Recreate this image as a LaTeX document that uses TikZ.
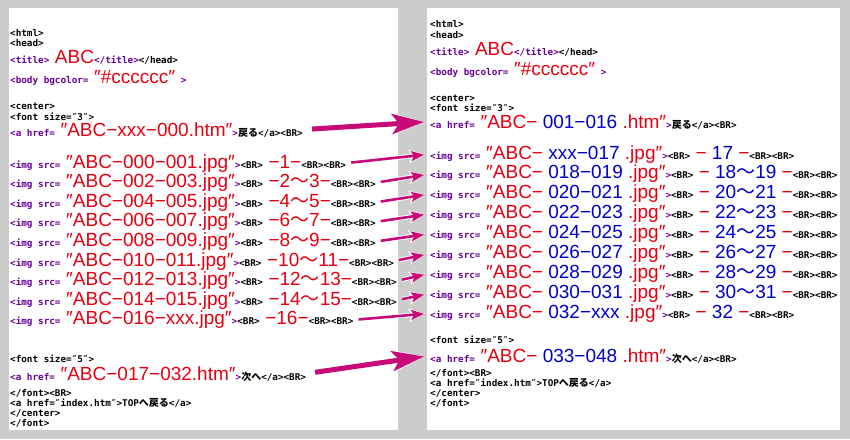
\documentclass[tikz,border=0pt]{standalone}
\usepackage{fontspec}
\usetikzlibrary{arrows.meta}
\setmainfont{Liberation Sans}
\newfontfamily\codefont{DejaVu Sans Mono}
\newfontfamily\bigfont{Liberation Sans}
\newfontfamily\jpfont{Noto Sans CJK JP}

\definecolor{tagpurple}{RGB}{102,0,153}
\definecolor{valred}{RGB}{230,0,18}
\definecolor{valblue}{RGB}{0,0,204}
\definecolor{arrowpink}{RGB}{200,10,120}
\definecolor{pagegray}{RGB}{204,204,204}

\newcommand{\tg}[1]{{\color{tagpurple}#1}}
\newcommand{\rd}[1]{{\bigfont\mdseries\fontsize{19}{19}\selectfont\color{valred}#1}}
\newcommand{\bl}[1]{{\bigfont\mdseries\fontsize{19}{19}\selectfont\color{valblue}#1}}
\newcommand{\jp}[1]{{\jpfont\bfseries\fontsize{10}{10}\selectfont #1}}
\newcommand{\wv}{{\jpfont 〜}}

\begin{document}
\begin{tikzpicture}[x=1pt, y=-1pt,
  code/.style={anchor=base west, inner sep=0pt, font=\codefont\bfseries\fontsize{9.3}{10}\selectfont},
  link/.style={arrowpink, line width=2.6pt, shorten <=5pt, shorten >=6pt,
    -{Stealth[length=13pt,width=10pt,inset=3pt]},
    preaction={draw=white, line width=4.4pt, -{Stealth[length=15pt,width=13pt,inset=3pt]}}},
  biglink/.style={arrowpink, line width=5pt, shorten <=9pt, shorten >=6pt,
    -{Stealth[length=32pt,width=20pt,inset=7pt]},
    preaction={draw=white, line width=7pt, -{Stealth[length=35pt,width=24pt,inset=7pt]}}}]
\useasboundingbox (0,0) rectangle (850,439);
\fill [pagegray] (0,0) rectangle (850,439);
\fill [white] (9,8) rectangle (398,430);
\fill [white] (427,8) rectangle (840,430);

% left page
\node [code] (lhtml) at (10,36.5) {<html>};
\node [code] (lhead) at (10,46.5) {<head>};
\node [code] (ltitle) at (10,63.5) {\tg{<title>} \rd{ABC}\tg{</title>}</head>};
\node [code] (lbody) at (10,83) {\tg{<body bgcolor=} \rd{″\#cccccc″} \tg{>}};
\node [code] (lcenter) at (10,109.5) {<center>};
\node [code] (lfont) at (10,120) {<font size=″3″>};
\node [code] (lback) at (10,136) {\tg{<a href=} \rd{″ABC−xxx−000.htm″}\tg{>}\jp{戻る}</a><BR>};
\node [code] (limg1) at (10,168) {\tg{<img src=} \rd{″ABC−000−001.jpg″}\tg{>}<BR> \rd{−1−}<BR><BR>};
\node [code] (limg2) at (10,187.6) {\tg{<img src=} \rd{″ABC−002−003.jpg″}\tg{>}<BR> \rd{−2\wv3−}<BR><BR>};
\node [code] (limg3) at (10,207.2) {\tg{<img src=} \rd{″ABC−004−005.jpg″}\tg{>}<BR> \rd{−4\wv5−}<BR><BR>};
\node [code] (limg4) at (10,226.8) {\tg{<img src=} \rd{″ABC−006−007.jpg″}\tg{>}<BR> \rd{−6\wv7−}<BR><BR>};
\node [code] (limg5) at (10,246.4) {\tg{<img src=} \rd{″ABC−008−009.jpg″}\tg{>}<BR> \rd{−8\wv9−}<BR><BR>};
\node [code] (limg6) at (10,266) {\tg{<img src=} \rd{″ABC−010−011.jpg″}\tg{>}<BR> \rd{−10\wv11−}<BR><BR>};
\node [code] (limg7) at (10,285.6) {\tg{<img src=} \rd{″ABC−012−013.jpg″}\tg{>}<BR> \rd{−12\wv13−}<BR><BR>};
\node [code] (limg8) at (10,305.2) {\tg{<img src=} \rd{″ABC−014−015.jpg″}\tg{>}<BR> \rd{−14\wv15−}<BR><BR>};
\node [code] (limg9) at (10,324.8) {\tg{<img src=} \rd{″ABC−016−xxx.jpg″}\tg{>}<BR> \rd{−16−}<BR><BR>};
\node [code] (lfontb) at (10,362) {<font size=″5″>};
\node [code] (lnext) at (10,380) {\tg{<a href=} \rd{″ABC−017−032.htm″}\tg{>}\jp{次へ}</a><BR>};
\node [code] (lfontend) at (10,396.5) {</font><BR>};
\node [code] (lindex) at (10,406) {<a href=″index.htm″>TOP\jp{へ戻る}</a>};
\node [code] (lcenterend) at (10,416.5) {</center>};
\node [code] (lclose) at (10,426) {</font>};

% right page
\node [code] (rhtml) at (430,27.5) {<html>};
\node [code] (rhead) at (430,38) {<head>};
\node [code] (rtitle) at (430,55) {\tg{<title>} \rd{ABC}\tg{</title>}</head>};
\node [code] (rbody) at (430,75) {\tg{<body bgcolor=} \rd{″\#cccccc″} \tg{>}};
\node [code] (rcenter) at (430,101) {<center>};
\node [code] (rfont) at (430,111) {<font size=″3″>};
\node [code] (rback) at (430,128) {\tg{<a href=} \rd{″ABC−\ }\bl{001−016}\rd{\ .htm″}\tg{>}\jp{戻る}</a><BR>};
\node [code] (rimg1) at (430,159) {\tg{<img src=} \rd{″ABC−\ }\bl{xxx−017}\rd{\ .jpg″}\tg{>}<BR>\rd{\ −\ }\bl{17}\rd{\ −}<BR><BR>};
\node [code] (rimg2) at (430,178.9) {\tg{<img src=} \rd{″ABC−\ }\bl{018−019}\rd{\ .jpg″}\tg{>}<BR>\rd{\ −\ }\bl{18\wv19}\rd{\ −}<BR><BR>};
\node [code] (rimg3) at (430,198.8) {\tg{<img src=} \rd{″ABC−\ }\bl{020−021}\rd{\ .jpg″}\tg{>}<BR>\rd{\ −\ }\bl{20\wv21}\rd{\ −}<BR><BR>};
\node [code] (rimg4) at (430,218.7) {\tg{<img src=} \rd{″ABC−\ }\bl{022−023}\rd{\ .jpg″}\tg{>}<BR>\rd{\ −\ }\bl{22\wv23}\rd{\ −}<BR><BR>};
\node [code] (rimg5) at (430,238.6) {\tg{<img src=} \rd{″ABC−\ }\bl{024−025}\rd{\ .jpg″}\tg{>}<BR>\rd{\ −\ }\bl{24\wv25}\rd{\ −}<BR><BR>};
\node [code] (rimg6) at (430,258.5) {\tg{<img src=} \rd{″ABC−\ }\bl{026−027}\rd{\ .jpg″}\tg{>}<BR>\rd{\ −\ }\bl{26\wv27}\rd{\ −}<BR><BR>};
\node [code] (rimg7) at (430,278.4) {\tg{<img src=} \rd{″ABC−\ }\bl{028−029}\rd{\ .jpg″}\tg{>}<BR>\rd{\ −\ }\bl{28\wv29}\rd{\ −}<BR><BR>};
\node [code] (rimg8) at (430,298.3) {\tg{<img src=} \rd{″ABC−\ }\bl{030−031}\rd{\ .jpg″}\tg{>}<BR>\rd{\ −\ }\bl{30\wv31}\rd{\ −}<BR><BR>};
\node [code] (rimg9) at (430,318.2) {\tg{<img src=} \rd{″ABC−\ }\bl{032−xxx}\rd{\ .jpg″}\tg{>}<BR>\rd{\ −\ }\bl{32}\rd{\ −}<BR><BR>};
\node [code] (rfontb) at (430,343.5) {<font size=″5″>};
\node [code] (rnext) at (430,362) {\tg{<a href=} \rd{″ABC−\ }\bl{033−048}\rd{\ .htm″}\tg{>}\jp{次へ}</a><BR>};
\node [code] (rfontend) at (430,376.5) {</font><BR>};
\node [code] (rindex) at (430,386.5) {<a href=″index.htm″>TOP\jp{へ戻る}</a>};
\node [code] (rcenterend) at (430,396.5) {</center>};
\node [code] (rclose) at (430,406) {</font>};

% links
\draw [biglink] (lback.east) -- (rback.west);
\draw [link] (limg1.east) -- (rimg1.west);
\draw [link] (limg2.east) -- (rimg2.west);
\draw [link] (limg3.east) -- (rimg3.west);
\draw [link] (limg4.east) -- (rimg4.west);
\draw [link] (limg5.east) -- (rimg5.west);
\draw [link] (limg6.east) -- (rimg6.west);
\draw [link] (limg7.east) -- (rimg7.west);
\draw [link] (limg8.east) -- (rimg8.west);
\draw [link] (limg9.east) -- (rimg9.west);
\draw [biglink] (lnext.east) -- (rnext.west);
\end{tikzpicture}
\end{document}
